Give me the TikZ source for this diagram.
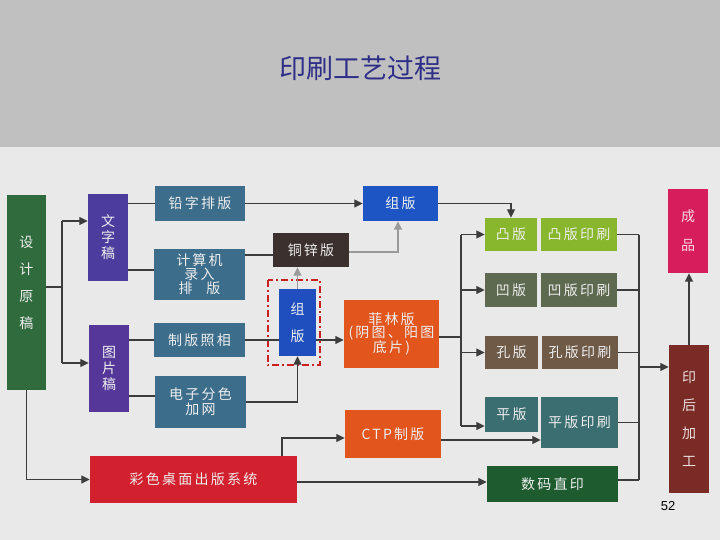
\documentclass[tikz,border=0pt]{standalone}
\usepackage{fontspec}
\setmainfont{Liberation Sans}
\newfontfamily\cjk[LetterSpace=16]{Noto Sans CJK SC}
\newfontfamily\cjktitle{Noto Sans CJK SC}
\usetikzlibrary{calc,arrows.meta}
\definecolor{headgray}{HTML}{C0C0C0}
\definecolor{bodybg}{HTML}{E9E9E9}
\definecolor{titleblue}{HTML}{2E2E88}
\definecolor{cDsg}{HTML}{2F6B3C}
\definecolor{cWzg}{HTML}{4B3C9E}
\definecolor{cTpg}{HTML}{55379A}
\definecolor{cTeal}{HTML}{3C6E8C}
\definecolor{cTx}{HTML}{3B302D}
\definecolor{cZbv}{HTML}{1F4FBF}
\definecolor{cZbt}{HTML}{1D56C4}
\definecolor{cOrange}{HTML}{E2561E}
\definecolor{cRed}{HTML}{D3202E}
\definecolor{cTb}{HTML}{88B62C}
\definecolor{cAb}{HTML}{5D6A4F}
\definecolor{cKb}{HTML}{6E5A47}
\definecolor{cPb}{HTML}{3B6E70}
\definecolor{cSm}{HTML}{1E5C30}
\definecolor{cCp}{HTML}{D81D5C}
\definecolor{cYh}{HTML}{7A2B26}
\definecolor{lineg}{HTML}{3C3C3C}
\definecolor{lightg}{HTML}{9A9A9A}
\definecolor{dashred}{HTML}{CC2020}
\definecolor{boxtext}{HTML}{EEEEEE}
\begin{document}
\begin{tikzpicture}[x=1pt,y=-1pt,
  box/.style={rectangle, inner sep=0pt, text=boxtext, align=center,
    font=\cjk\fontsize{14}{15}\selectfont},
  sz/.style 2 args={minimum width=#1, minimum height=#2},
  conn/.style={draw=lineg, line width=1.3pt},
  arr/.style={conn, -{Triangle[length=8.5pt,width=8pt]}},
  garr/.style={draw=lightg, line width=1.3pt, -{Triangle[length=8.5pt,width=8pt]}},
  dashbox/.style={draw=dashred, line width=1.8pt, dash pattern=on 7pt off 3pt on 2pt off 3pt}
]
\useasboundingbox (0,0) rectangle (720,540);
\fill[headgray] (0,0) rectangle (720,147);
\fill[bodybg] (0,147) rectangle (720,540);

\node[text=titleblue, font=\cjktitle\fontsize{27}{30}\selectfont] (title) at (360,68) {印刷工艺过程};

% boxes
\node[box, sz={39}{195}, fill=cDsg, font=\cjk\fontsize{14}{27}\selectfont] (dsg) at (26.5,292.5) {设\\计\\原\\稿\\[-7pt]\mbox{}};
\node[box, sz={40}{87}, fill=cWzg, font=\cjk\fontsize{14}{16}\selectfont] (wzg) at (108,237.5) {文\\字\\稿};
\node[box, sz={40}{87}, fill=cTpg, font=\cjk\fontsize{14}{16}\selectfont] (tpg) at (109,368.5) {图\\片\\稿};
\node[box, sz={90}{35}, fill=cTeal] (qzpb) at (200,203.5) {铅字排版};
\node[box, sz={91}{51}, fill=cTeal, font=\cjk\fontsize{14}{14}\selectfont] (jsj) at (199.5,274.5) {计算机\\录入\\排\quad 版};
\node[box, sz={76}{34}, fill=cTx] (tx) at (311,250) {铜锌版};
\node[box, sz={37}{67}, fill=cZbv, font=\cjk\fontsize{14}{27}\selectfont] (zbv) at (297.5,322.5) {组\\版};
\node[box, sz={91}{34}, fill=cTeal] (zbzx) at (199.5,340) {制版照相};
\node[box, sz={91}{52}, fill=cTeal, font=\cjk\fontsize{14}{15}\selectfont] (dzfs) at (200.5,402) {电子分色\\加网};
\node[box, sz={75}{35}, fill=cZbt] (zbt) at (400.5,203.5) {组版};
\node[box, sz={95}{68}, fill=cOrange, font=\cjk\fontsize{14}{13}\selectfont] (fl) at (391.5,334) {菲林版\\(阴图、阳图\\底片)};
\node[box, sz={96}{48}, fill=cOrange] (ctp) at (393,434) {CTP制版};
\node[box, sz={207}{47}, fill=cRed] (cs) at (193.5,479.5) {彩色桌面出版系统};
\node[box, sz={52}{33}, fill=cTb] (tb) at (511,234.5) {凸版};
\node[box, sz={76}{33}, fill=cTb] (tbys) at (579,234.5) {凸版印刷};
\node[box, sz={52}{34}, fill=cAb] (ab) at (511,290) {凹版};
\node[box, sz={76}{34}, fill=cAb] (abys) at (579,290) {凹版印刷};
\node[box, sz={53}{33}, fill=cKb] (kb) at (511.5,352.5) {孔版};
\node[box, sz={76}{33}, fill=cKb] (kbys) at (580,352.5) {孔版印刷};
\node[box, sz={53}{35}, fill=cPb] (pb) at (511.5,414.5) {平版};
\node[box, sz={77}{51}, fill=cPb] (pbys) at (579.5,422.5) {平版印刷};
\node[box, sz={131}{36}, fill=cSm] (sm) at (552.5,484) {数码直印};
\node[box, sz={40}{84}, fill=cCp, text=white!82!cCp, font=\cjk\fontsize{14}{29}\selectfont] (cp) at (688,231) {成\\品};
\node[box, sz={40}{148}, fill=cYh, text=white!85!cYh, font=\cjk\fontsize{14}{28}\selectfont] (yhjg) at (689,419) {印\\后\\加\\工};
\node[font=\fontsize{13}{15}\selectfont, text=black] (p52) at (668,506) {52};

% dashed frame round the vertical 组版
\draw[dashbox] ($(zbv.north west)+(-11,-9)$) rectangle ($(zbv.south east)+(4,9)$);

% helper coordinates
\coordinate (j1) at (62,287);
\coordinate (wy) at (0,221);
\coordinate (ty) at (0,363);
\coordinate (y270) at (0,270);
\coordinate (y255) at (0,255);
\coordinate (y252) at (0,252);
\coordinate (y396) at (0,396);
\coordinate (c1) at (282,438);
\coordinate (y482) at (0,482);
\coordinate (y440) at (0,440);
\coordinate (b1) at (461,337);
\coordinate (y426) at (0,426);
\coordinate (b2) at (639,367);
\coordinate (y480) at (0,480);

% connectors
\draw[conn] (dsg.east |- j1) -- (j1);
\draw[conn] (j1 |- wy) -- (j1 |- ty);
\draw[arr] (j1 |- wy) -- (wzg.west |- wy);
\draw[arr] (j1 |- ty) -- (tpg.west |- ty);
\draw[arr] (dsg.south) |- (cs.west);

\draw[conn] (wzg.east |- qzpb.west) -- (qzpb.west);
\draw[conn] (wzg.east |- y270) -- (jsj.west |- y270);
\draw[arr] (qzpb.east) -- (zbt.west);
\draw[conn] (jsj.east |- y255) -- (tx.west |- y255);
\draw[garr] (tx.east |- y252) -| ([xshift=-2.5pt]zbt.south);
\draw[garr] (zbv.north) -- (zbv.north |- tx.south);

\draw[conn] (tpg.east |- zbzx.west) -- (zbzx.west);
\draw[conn] (zbzx.east) -- (zbv.west |- zbzx.east);
\draw[arr] (zbv.east |- zbzx.east) -- (fl.west |- zbzx.east);
\draw[conn] (tpg.east |- y396) -- (dzfs.west |- y396);
\draw[arr] (dzfs.east) -| (zbv.south);

\draw[arr] (cs.north -| c1) |- (ctp.west |- c1);
\draw[arr] (cs.east |- y482) -- (sm.west |- y482);
\draw[arr] (ctp.east |- y440) -- (pbys.west |- y440);

\draw[conn] (fl.east |- b1) -- (b1);
\draw[conn] (b1 |- tb.west) -- (b1 |- y426);
\draw[arr] (b1 |- tb.west) -- (tb.west);
\draw[arr] (b1 |- ab.west) -- (ab.west);
\draw[arr] (b1 |- kb.west) -- (kb.west);
\draw[arr] (b1 |- y426) -- (pb.west |- y426);
\draw[arr] (zbt.east) -| (tb.north);

\draw[conn] (tbys.east) -- (b2 |- tbys.east);
\draw[conn] (abys.east) -- (b2 |- abys.east);
\draw[conn] (kbys.east) -- (b2 |- kbys.east);
\draw[conn] (pbys.east) -- (b2 |- pbys.east);
\draw[conn] (sm.east |- y480) -- (b2 |- y480);
\draw[conn] (b2 |- tbys.east) -- (b2 |- y480);
\draw[arr] (b2) -- (yhjg.west |- b2);
\draw[arr] (yhjg.north) -- (yhjg.north |- cp.south);
\end{tikzpicture}
\end{document}
